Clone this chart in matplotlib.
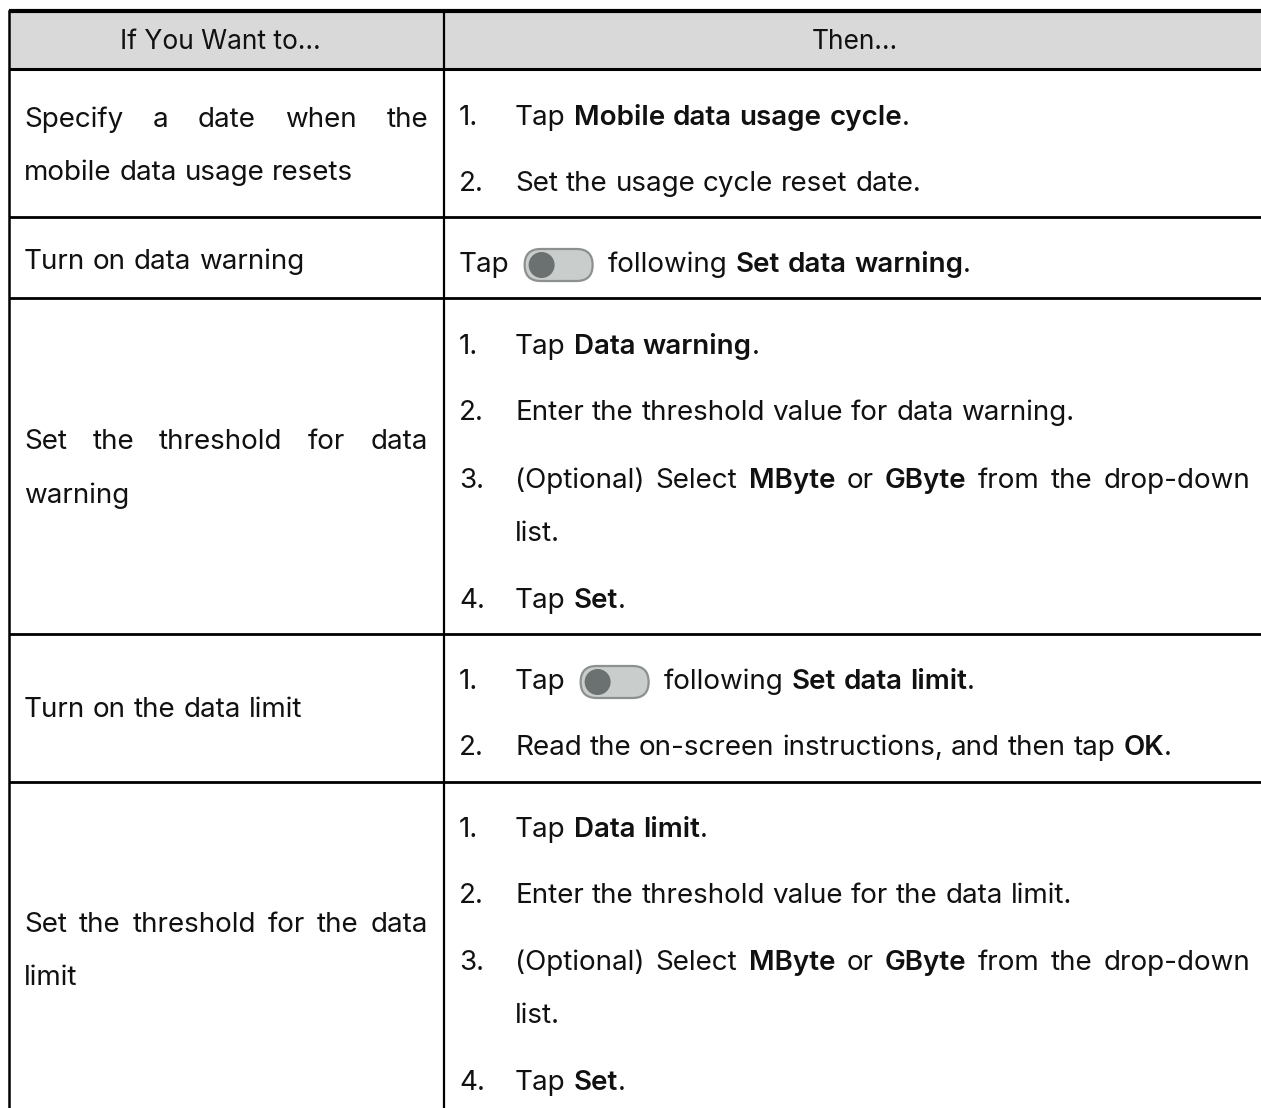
import matplotlib
matplotlib.use("Agg")
import matplotlib.pyplot as plt
from matplotlib.patches import FancyBboxPatch, Circle, Rectangle

# ---------------- data ----------------
header = ["If You Want to…", "Then…"]

left_col = [
    ["Specify a date when the", "mobile data usage resets"],
    ["Turn on data warning"],
    ["Set the threshold for data", "warning"],
    ["Turn on the data limit"],
    ["Set the threshold for the data", "limit"],
]
left_justify = [[True, False], [False], [True, False], [False], [True, False]]

# segments: (text, bold); "<TOGGLE>" marks the switch icon
right_col = [
    [("1.", [("Tap ", False), ("Mobile data usage cycle", True), (".", False)]),
     ("2.", [("Set the usage cycle reset date.", False)])],
    [(None, [("Tap ", False), ("<TOGGLE>", False), ("following ", False), ("Set data warning", True), (".", False)])],
    [("1.", [("Tap ", False), ("Data warning", True), (".", False)]),
     ("2.", [("Enter the threshold value for data warning.", False)]),
     ("3.", [("(Optional) Select ", False), ("MByte", True), (" or ", False), ("GByte", True),
             (" from the drop-down", False)]),
     ("", [("list.", False)]),
     ("4.", [("Tap ", False), ("Set", True), (".", False)])],
    [("1.", [("Tap ", False), ("<TOGGLE>", False), ("following ", False), ("Set data limit", True), (".", False)]),
     ("2.", [("Read the on-screen instructions, and then tap ", False), ("OK", True), (".", False)])],
    [("1.", [("Tap ", False), ("Data limit", True), (".", False)]),
     ("2.", [("Enter the threshold value for the data limit.", False)]),
     ("3.", [("(Optional) Select ", False), ("MByte", True), (" or ", False), ("GByte", True),
             (" from the drop-down", False)]),
     ("", [("list.", False)]),
     ("4.", [("Tap ", False), ("Set", True), (".", False)])],
]
right_justify = [[False, False], [False], [False, False, True, False, False], [False, False],
                 [False, False, True, False, False]]

# ---------------- layout ----------------
W, H = 1261, 1108
fig = plt.figure(figsize=(W / 100, H / 100), dpi=100)
ax = fig.add_axes([0, 0, 1, 1])
ax.set_xlim(0, W)
ax.set_ylim(H, 0)
ax.axis("off")
renderer = fig.canvas.get_renderer()

FONT = "Inter"
FS = 20
TXT = "#111111"
BOLDW = "semibold"

x_left, x_div, x_right = 9, 444, W + 5
y_top, y_head = 11, 69
row_bounds = [69, 217, 298, 634, 782, 1120]

# header
ax.add_patch(Rectangle((x_left, y_top), x_right - x_left, y_head - y_top, facecolor="#d9d9d9",
                       edgecolor="none", zorder=0))

def hline(y, lw=2.0):
    ax.plot([x_left, x_right], [y, y], color="black", lw=lw, solid_capstyle="butt", zorder=3)

hline(y_top, 3.0)
hline(y_head, 2.2)
for y in row_bounds[1:-1]:
    hline(y, 2.0)
ax.plot([x_left, x_left], [y_top, H + 5], color="black", lw=1.8, zorder=3)
ax.plot([x_div, x_div], [y_top, H + 5], color="black", lw=1.6, zorder=3)

ax.text((x_left + x_div) / 2 - 6, 42, header[0], ha="center", va="center", fontsize=19,
        family=FONT, color=TXT)
ax.text((x_div + W) / 2 + 2, 42, header[1], ha="center", va="center", fontsize=19,
        family=FONT, color=TXT)


def tw(s, bold=False):
    t = ax.text(0, 0, s, fontsize=FS, family=FONT, fontweight=BOLDW if bold else "normal")
    w = t.get_window_extent(renderer).width
    t.remove()
    return w

SPACE = tw("a a") - tw("aa")


def put(x, y, s, bold=False):
    t = ax.text(x, y, s, ha="left", va="center", fontsize=FS, family=FONT,
                fontweight=BOLDW if bold else "normal", color=TXT)
    return t.get_window_extent(renderer).width


def toggle(x, y):
    w, h = 68, 32
    ax.add_patch(FancyBboxPatch((x, y - h / 2), w, h, boxstyle=f"round,pad=0,rounding_size={h/2}",
                                facecolor="#c9cdcc", edgecolor="#8c9190", lw=1.6, zorder=4))
    ax.add_patch(Circle((x + h / 2 + 1, y), h / 2 - 3, facecolor="#6b7170", edgecolor="none", zorder=5))
    return w


def draw_segments(x, y, segs, justify_to=None):
    words = []
    prev_trailing = False
    for s, b in segs:
        if s == "<TOGGLE>":
            words.append(("<TOGGLE>", b, True))
            prev_trailing = True
            continue
        parts = s.split()
        for i, p in enumerate(parts):
            sb = (s.startswith(" ") or prev_trailing) if i == 0 else True
            words.append((p, b, sb))
        prev_trailing = s.endswith(" ")
    widths = [68 if w == "<TOGGLE>" else tw(w, b) for w, b, _ in words]
    gaps = []
    for i, (w, b, sb) in enumerate(words):
        if i == 0:
            gaps.append(0)
        elif w == "<TOGGLE>" or words[i - 1][0] == "<TOGGLE>":
            gaps.append(15)
        else:
            gaps.append(SPACE if sb else 0)
    if justify_to is not None:
        nat = sum(widths) + sum(gaps)
        spaced = [i for i, g in enumerate(gaps) if g > 0]
        if spaced and justify_to > x + nat:
            extra = (justify_to - x - nat) / len(spaced)
            for i in spaced:
                gaps[i] += extra
    cx = x
    for (w, b, _), wd, g in zip(words, widths, gaps):
        cx += g
        if w == "<TOGGLE>":
            toggle(cx, y)
        else:
            put(cx, y, w, b)
        cx += wd


left_y = [[120, 173], [262], [442, 496], [710], [925, 978]]
right_y = [[118, 184], [265], [347, 413, 481, 534, 601], [682, 748], [830, 896, 963, 1016, 1083]]

for r, lines in enumerate(left_col):
    for j, line in enumerate(lines):
        draw_segments(24, left_y[r][j], [(line, False)],
                      justify_to=428 if left_justify[r][j] else None)

for r, items in enumerate(right_col):
    for j, (num, segs) in enumerate(items):
        y = right_y[r][j]
        if num is None:
            draw_segments(459, y, segs)
        else:
            if num:
                put(459, y, num)
            draw_segments(515, y, segs, justify_to=1250 if right_justify[r][j] else None)

fig.savefig("out.png", dpi=100, facecolor="white")
